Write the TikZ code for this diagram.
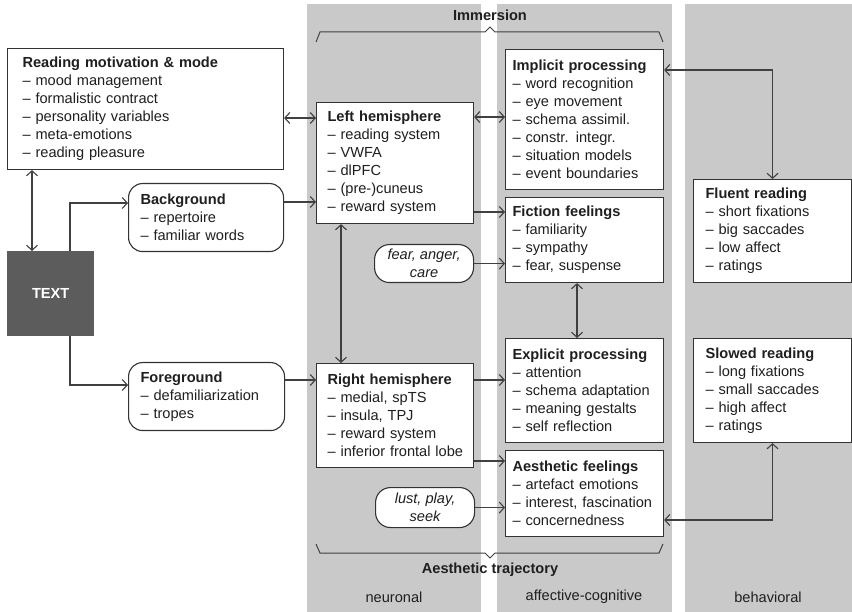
\documentclass[tikz,border=0pt]{standalone}
\usepackage{fontspec}
\setmainfont{Liberation Sans}
\usetikzlibrary{arrows.meta}
\begin{document}
\begin{tikzpicture}[x=1pt,y=-1pt,
  every node/.style={font=\fontsize{14.6}{18}\selectfont, text=black!88},
  box/.style={draw=black!80, line width=1.1pt, fill=white, align=left, anchor=north west, inner ysep=0pt},
  rbox/.style={box, rounded corners=14pt},
  pill/.style={draw=black!80, line width=1.1pt, fill=white, align=center, anchor=north west, inner sep=0pt, rounded corners=15pt, font=\fontsize{14.6}{18}\selectfont\itshape},
  conn/.style={draw=black!75, line width=1.1pt},
  >={Straight Barb[length=5pt,width=11pt]},
  col/.style={fill=black!21, draw=none},
  brace/.style={draw=black!75, line width=1pt},
  ttl/.style={font=\fontsize{14.6}{18}\selectfont\bfseries}]
\useasboundingbox (0,0) rectangle (852,612);
\fill[white] (0,0) rectangle (852,612);
% columns
\fill[col] (307,4) rectangle (481,612);
\fill[col] (497,4) rectangle (672,612);
\fill[col] (685,4) rectangle (852,612);

% boxes
\node[box, text width=246pt, inner xsep=15pt, minimum height=121pt] (rm) at (7,48)
  {\textbf{Reading motivation \& mode}\\– mood management\\– formalistic contract\\– personality variables\\– meta-emotions\\– reading pleasure};
\node[rbox, text width=131pt, inner xsep=12pt, minimum height=68pt] (bg) at (128,183)
  {\textbf{Background}\\– repertoire\\– familiar words};
\node[rbox, text width=132pt, inner xsep=12pt, minimum height=68pt] (fg) at (128,362)
  {\textbf{Foreground}\\– defamiliarization\\– tropes};
\node[fill=black!64, anchor=north west, minimum width=87pt, minimum height=85pt, inner sep=0pt, text=white, font=\fontsize{14.6}{18}\selectfont\bfseries] (txt) at (7,251) {TEXT};

\node[box, text width=135pt, inner xsep=11pt, minimum height=121pt] (lh) at (316,102)
  {\textbf{Left hemisphere}\\– reading system\\– VWFA\\– dlPFC\\– (pre-)cuneus\\– reward system};
\node[box, text width=135pt, inner xsep=11pt, minimum height=104pt] (rh) at (316,363)
  {\textbf{Right hemisphere}\\– medial, spTS\\– insula, TPJ\\– reward system\\\mbox{– inferior frontal lobe}};
\node[pill, minimum width=99pt, minimum height=38pt] (fear) at (374,244) {fear, anger,\\care};
\node[pill, minimum width=99pt, minimum height=40pt] (lust) at (375,487) {lust, play,\\seek};

\node[box, text width=144pt, inner xsep=7pt, minimum height=140pt] (imp) at (505,49)
  {\textbf{Implicit processing}\\– word recognition\\– eye movement\\– schema assimil.\\– constr. integr.\\– situation models\\– event boundaries};
\node[box, text width=144pt, inner xsep=7pt, minimum height=85pt] (fic) at (505,197)
  {\textbf{Fiction feelings}\\– familiarity\\– sympathy\\– fear, suspense};
\node[box, text width=144pt, inner xsep=7pt, minimum height=104pt] (exp) at (505,338)
  {\textbf{Explicit processing}\\– attention\\– schema adaptation\\– meaning gestalts\\– self reflection};
\node[box, text width=144pt, inner xsep=7pt, minimum height=86pt] (aes) at (505,450)
  {\textbf{Aesthetic feelings}\\– artefact emotions\\\mbox{– interest, fascination}\\– concernedness};

\node[box, text width=134pt, inner xsep=12pt, minimum height=103pt] (flu) at (693,179)
  {\textbf{Fluent reading}\\– short fixations\\– big saccades\\– low affect\\– ratings};
\node[box, text width=134pt, inner xsep=12pt, minimum height=104pt] (slo) at (693,338)
  {\textbf{Slowed reading}\\– long fixations\\– small saccades\\– high affect\\– ratings};

% connectors
\draw[conn,<->] (rm.east |- 0,118) -- (lh.west |- 0,118);
\draw[conn,<->] (lh.east |- 0,117) -- (imp.west |- 0,117);
\draw[conn,<->] (rm.south -| 32,0) -- (txt.north -| 32,0);
\draw[conn,->] (txt.north -| 70,0) |- (bg.west |- 0,203);
\draw[conn,->] (bg.east |- 0,202) -- (lh.west |- 0,202);
\draw[conn,->] (txt.south -| 70,0) |- (fg.west |- 0,385);
\draw[conn,->] (fg.east |- 0,380) -- (rh.west |- 0,380);
\draw[conn,<->] (lh.south -| 341,0) -- (rh.north -| 341,0);
\draw[conn,->] (lh.east |- 0,212) -- (fic.west |- 0,212);
\draw[conn,->] (fear.east) -- (fic.west |- fear.east);
\draw[conn,<->] (fic.south -| 577,0) -- (exp.north -| 577,0);
\draw[conn,->] (rh.east |- 0,380) -- (exp.west |- 0,380);
\draw[conn,->] (rh.east |- 0,461) -- (aes.west |- 0,461);
\draw[conn,->] (lust.east) -- (aes.west |- lust.east);
\draw[conn,<->] (imp.east |- 0,70) -| (flu.north);
\draw[conn,<->] (aes.east |- 0,520) -| (slo.south);

% braces
\draw[brace] (316,42) -- (320,32) -- (485,32) -- (490,27) -- (495,32) -- (659,32) -- (663,42);
\draw[brace] (316,544) -- (320,553) -- (485,553) -- (490,558) -- (495,553) -- (659,553) -- (663,544);
\node[ttl] (imm) at (490,15) {Immersion};
\node[ttl] (aet) at (490,570) {Aesthetic trajectory};
\node (neu) at (394,597) {neuronal};
\node (afc) at (584,597) {affective-cognitive};
\node (beh) at (768,597) {behavioral};
\end{tikzpicture}
\end{document}
